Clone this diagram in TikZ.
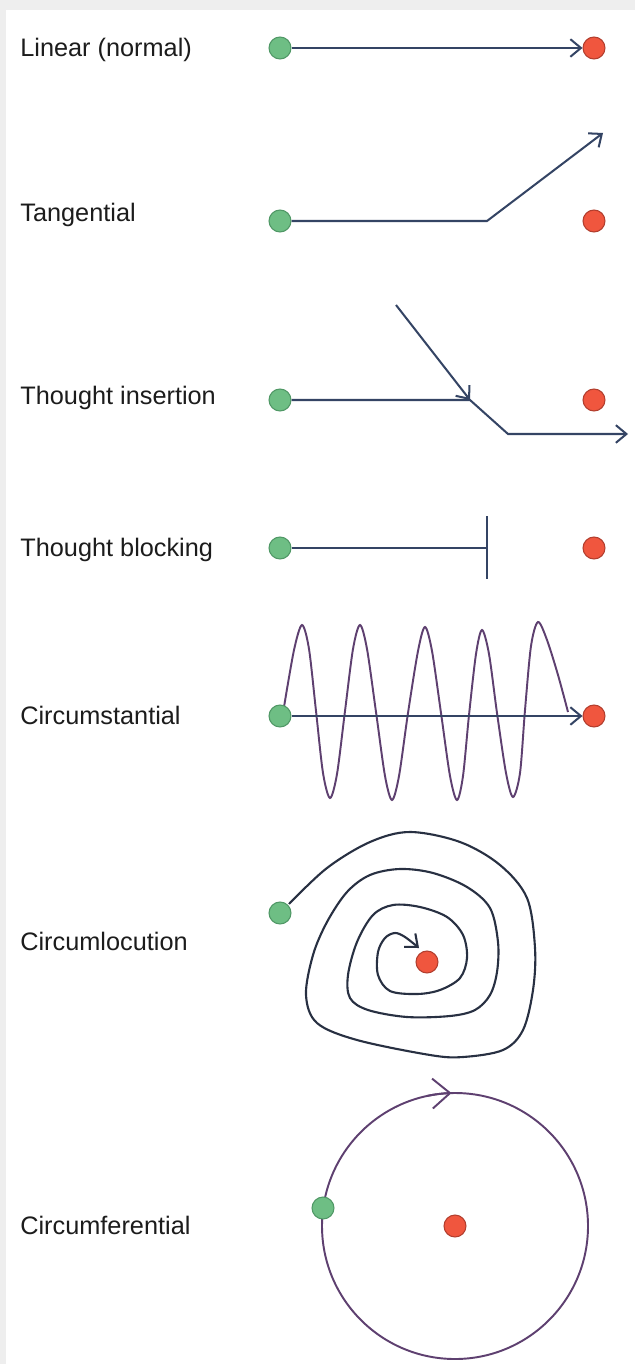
\documentclass[tikz,border=0pt]{standalone}
\usepackage{fontspec}
\setmainfont{Liberation Sans}
\usetikzlibrary{arrows.meta,calc}
\definecolor{OnsetGreen}{RGB}{110,190,132}
\definecolor{OnsetRim}{RGB}{80,152,102}
\definecolor{GoalRed}{RGB}{240,86,62}
\definecolor{GoalRim}{RGB}{178,62,46}
\definecolor{PathInk}{RGB}{52,68,100}
\definecolor{WaveInk}{RGB}{94,64,112}
\definecolor{SpiralInk}{RGB}{40,48,66}
\definecolor{LabelInk}{RGB}{28,28,28}
\definecolor{FrameGrey}{RGB}{238,238,238}

\begin{document}
\begin{tikzpicture}[x=0.02cm,y=-0.02cm,
    onset/.style={circle,draw=OnsetRim,fill=OnsetGreen,line width=0.6pt,minimum size=12.5pt,inner sep=0pt},
    goal/.style={circle,draw=GoalRim,fill=GoalRed,line width=0.6pt,minimum size=12.5pt,inner sep=0pt},
    lab/.style={anchor=base west,inner sep=0pt,font=\fontsize{14.4}{17}\selectfont,text=LabelInk},
    arrow/.style={-{Straight Barb[length=6pt,width=10pt]},line width=1.15pt,PathInk},
    plain/.style={line width=1.15pt,PathInk},
    wave/.style={line width=1.1pt,WaveInk},
    spiral/.style={-{Straight Barb[length=6pt,width=10pt]},line width=1.2pt,SpiralInk},
    bigtip/.style={-{Straight Barb[length=10pt,width=17pt]},line width=1.1pt,WaveInk}
  ]
    \useasboundingbox (0,0) rectangle (635,1364);
    \fill[FrameGrey] (0,0) rectangle (635,1364);
    \fill[white] (6,10) rectangle (635,1364);

    % linear
    \node[lab] (linL) at (20,57) {Linear (normal)};
    \node[onset] (linS) at (280,48) {};
    \node[goal] (linE) at (594,48) {};
    \draw[arrow] (linS) -- (linE);

    % tangential
    \node[lab] (tanL) at (20,222) {Tangential};
    \node[onset] (tanS) at (280,221) {};
    \node[goal] (tanE) at (594,221) {};
    \coordinate (tanK) at (487,221);
    \coordinate (tanT) at (603,133);
    \draw[arrow] (tanS) -- (tanK) -- (tanT);

    % insertion
    \node[lab] (insL) at (20,405) {Thought insertion};
    \node[onset] (insS) at (280,400) {};
    \node[goal] (insE) at (594,400) {};
    \coordinate (insA) at (396,305);
    \coordinate (insK) at (470,400);
    \coordinate (insB) at (508,434);
    \coordinate (insT) at (628,434);
    \draw[arrow] (insA) -- (insK);
    \draw[arrow] (insS) -- (insK) -- (insB) -- (insT);

    % blocking
    \node[lab] (blkL) at (20,556) {Thought blocking};
    \node[onset] (blkS) at (280,548) {};
    \node[goal] (blkE) at (594,548) {};
    \coordinate (blkK) at (487,548);
    \coordinate (blkU) at (487,516);
    \coordinate (blkD) at (487,579);
    \draw[plain] (blkS) -- (blkK);
    \draw[plain] (blkU) -- (blkD);

    % circumstantial
    \node[lab] (cstL) at (20,724) {Circumstantial};
    \draw[wave] plot[smooth,tension=0.5] coordinates {
      (284,707) (294,650) (302,625) (309,649) (316,711) (323,773) (330,798)
      (337,774) (345,711) (353,649) (360,625) (367,649) (376,712) (385,776)
      (392,800) (399,776) (408,713) (418,651) (425,627) (432,651) (441,713)
      (450,776) (457,800) (463,776) (469,715) (476,654) (482,630) (489,654)
      (497,713) (506,773) (513,797) (520,773) (525,710) (531,646) (538,622)
      (547,640) (558,675) (568,712)};
    \node[onset] (cstS) at (280,716) {};
    \node[goal] (cstE) at (594,716) {};
    \draw[arrow] (cstS) -- (cstE);

    % circumlocution
    \node[lab] (cloL) at (20,950) {Circumlocution};
    \node[onset] (cloS) at (280,913) {};
    \node[goal] (cloE) at (427,962) {};
    \draw[spiral] plot[smooth,tension=0.55] coordinates {
      (289,904) (327,868) (370,842) (410,832) (460,842) (500,865) (527,898)
      (535,948) (533,990) (523,1030) (503,1050) (463,1057) (430,1055)
      (357,1040) (317,1023) (306,995) (313,955) (327,922) (347,892) (370,875)
      (400,869) (433,873) (467,887) (490,908) (498,942) (497,972) (490,995)
      (475,1010) (450,1016) (407,1017) (368,1010) (350,998) (348,975)
      (357,942) (373,915) (393,905) (420,907) (447,917) (463,935) (467,958)
      (460,978) (440,990) (417,994) (390,991) (378,975) (378,952) (385,938)
      (395,933) (405,937) (419,948)};

    % circumferential
    \node[lab] (cfrL) at (20,1234) {Circumferential};
    \node[goal] (cfrE) at (455,1226) {};
    \draw[wave] (cfrE) circle (133);
    \draw[bigtip] (cfrE) ++(258:133) arc (258:268.5:133);
    \node[onset] (cfrS) at (323,1208) {};
  \end{tikzpicture}
\end{document}
